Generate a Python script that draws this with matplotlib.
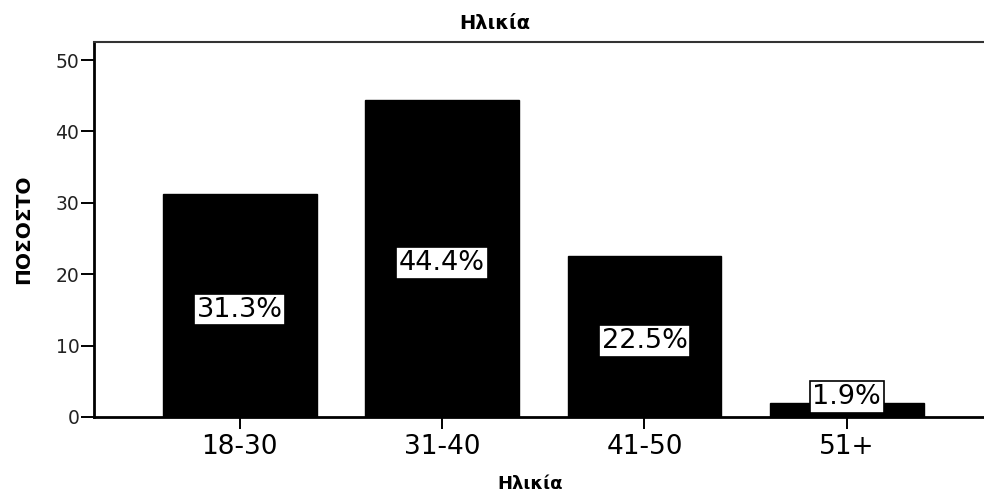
import matplotlib.pyplot as plt

categories = ["18-30", "31-40", "41-50", "51+"]
percent = [31.3, 44.4, 22.5, 1.9]
labels = ["31.3%", "44.4%", "22.5%", "1.9%"]
yticks = [0, 10, 20, 30, 40, 50]


def main() -> None:
    plt.rcParams["font.family"] = ["DejaVu Sans"]
    fig = plt.figure(figsize=(9.84, 4.95), dpi=100)
    ax = fig.add_axes([0.0955, 0.1576, 0.905, 0.7585])

    x = list(range(len(categories)))
    ax.bar(x, percent, width=0.76, color="black", edgecolor="black", zorder=2)

    for xi, v, lab in zip(x, percent, labels):
        y = max(v / 2 - 0.6, 2.8)
        ax.text(xi, y, lab, ha="center", va="center", fontsize=19.5, color="black", zorder=3,
                bbox=dict(boxstyle="square,pad=0.1", facecolor="white", edgecolor="black", linewidth=1.2))

    ax.set_xlim(-0.72, 3.68)
    ax.set_ylim(0, 52.6)
    ax.set_xticks(x)
    ax.set_xticklabels(categories, fontsize=19)
    ax.set_yticks(yticks)
    ax.set_yticklabels([str(t) for t in yticks], fontsize=13.5, color="#222222")
    ax.tick_params(axis="y", length=9.5, width=1.4, pad=1)
    ax.tick_params(axis="x", length=8.5, width=1.4, pad=4)

    ax.spines["right"].set_visible(False)
    ax.spines["left"].set_linewidth(2)
    ax.spines["bottom"].set_linewidth(2)
    ax.spines["top"].set_linewidth(1.5)
    ax.spines["top"].set_color("#333333")

    ax.set_ylabel("ΠΟΣΟΣΤΟ", fontsize=14.5, fontweight="bold")
    ax.yaxis.set_label_coords(-0.068, 0.5)
    fig.text(0.539, 0.004, "Ηλικία", ha="center", va="bottom", fontsize=13, fontweight="bold")
    fig.text(0.503, 0.953, "Ηλικία", ha="center", va="center", fontsize=14, fontweight="semibold")

    fig.savefig("out.png", dpi=100)


if __name__ == "__main__":
    main()
